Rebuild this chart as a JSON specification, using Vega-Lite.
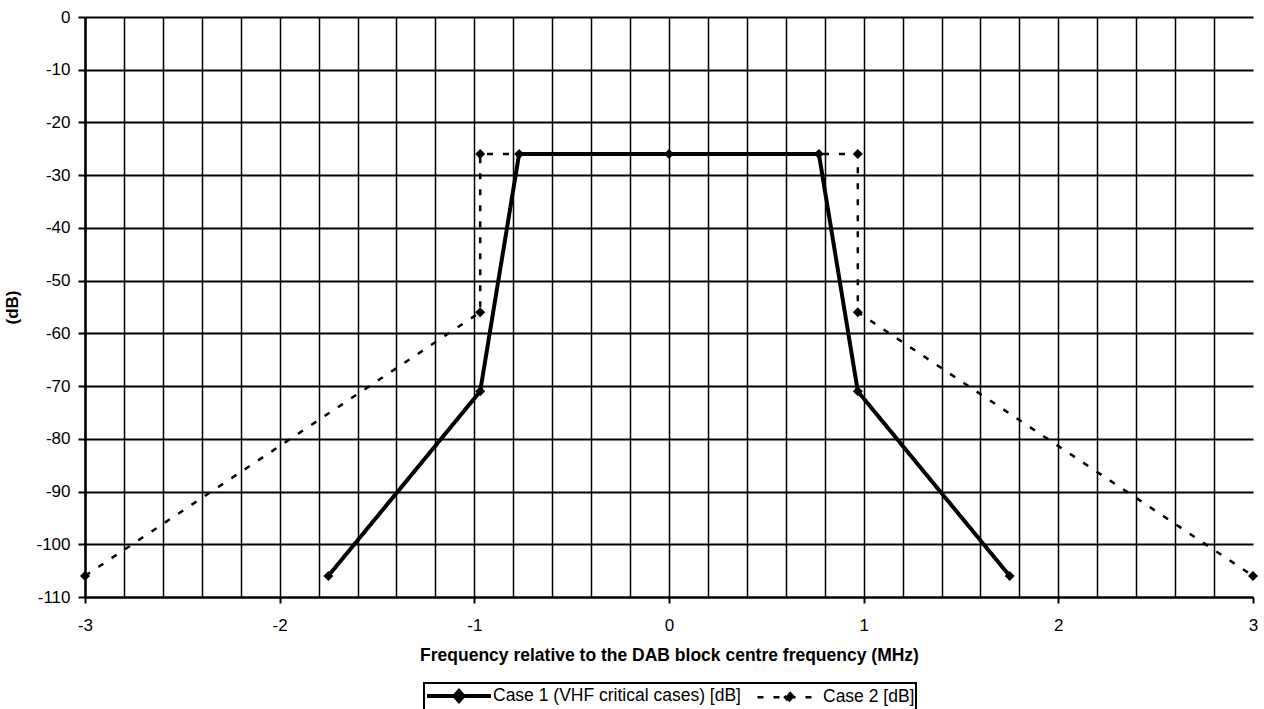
{
  "$schema": "https://vega.github.io/schema/vega-lite/v6.json",
  "width": 1168,
  "height": 580,
  "autosize": {"type": "none"},
  "padding": {"left": 85, "top": 17, "right": 11, "bottom": 112},
  "background": "white",
  "config": {
    "view": {"stroke": null},
    "font": "Liberation Sans",
    "axis": {"labelFont": "Liberation Sans", "titleFont": "Liberation Sans", "labelColor": "black", "titleColor": "black", "labelFontSize": 17},
    "legend": {"strokeWidth": 2}
  },
  "data": {
    "values": [
      {"series": "Case 1 (VHF critical cases)  [dB]", "ord": 1, "f": -1.75, "db": -106},
      {"series": "Case 1 (VHF critical cases)  [dB]", "ord": 2, "f": -0.97, "db": -71},
      {"series": "Case 1 (VHF critical cases)  [dB]", "ord": 3, "f": -0.77, "db": -26},
      {"series": "Case 1 (VHF critical cases)  [dB]", "ord": 4, "f": 0, "db": -26},
      {"series": "Case 1 (VHF critical cases)  [dB]", "ord": 5, "f": 0.77, "db": -26},
      {"series": "Case 1 (VHF critical cases)  [dB]", "ord": 6, "f": 0.97, "db": -71},
      {"series": "Case 1 (VHF critical cases)  [dB]", "ord": 7, "f": 1.75, "db": -106},
      {"series": "Case 2 [dB]", "ord": 1, "f": -3, "db": -106},
      {"series": "Case 2 [dB]", "ord": 2, "f": -0.97, "db": -56},
      {"series": "Case 2 [dB]", "ord": 3, "f": -0.97, "db": -26},
      {"series": "Case 2 [dB]", "ord": 4, "f": 0.97, "db": -26},
      {"series": "Case 2 [dB]", "ord": 5, "f": 0.97, "db": -56},
      {"series": "Case 2 [dB]", "ord": 6, "f": 3, "db": -106}
    ]
  },
  "encoding": {
    "x": {
      "field": "f", "type": "quantitative",
      "scale": {"domain": [-3, 3], "nice": false, "zero": false},
      "axis": {
        "title": "Frequency relative to the DAB block centre frequency (MHz)",
        "titleFontSize": 17.5, "titleFontWeight": "bold", "titlePadding": 13,
        "values": [-3,-2.8,-2.6,-2.4,-2.2,-2,-1.8,-1.6,-1.4,-1.2,-1,-0.8,-0.6,-0.4,-0.2,0,0.2,0.4,0.6,0.8,1,1.2,1.4,1.6,1.8,2,2.2,2.4,2.6,2.8,3],
        "labelExpr": "abs(datum.value - round(datum.value)) < 0.001 ? toString(round(datum.value)) : ''",
        "labelFontSize": 17, "labelPadding": 14, "labelFlush": false, "labelOverlap": false, "labelBound": false,
        "grid": true, "gridColor": "black", "gridWidth": 1.5,
        "gridOpacity": {"condition": {"test": "datum.value > 2.99", "value": 0}, "value": 1},
        "tickColor": "black", "tickWidth": 2, "tickSize": 6,
        "tickOpacity": {"condition": {"test": "abs(datum.value - round(datum.value)) < 0.001", "value": 1}, "value": 0},
        "domainColor": "black", "domainWidth": 2
      }
    },
    "y": {
      "field": "db", "type": "quantitative",
      "scale": {"domain": [-110, 0], "nice": false},
      "axis": {
        "title": "(dB)", "titleFontSize": 17, "titleFontWeight": "bold", "titlePadding": 14,
        "values": [-110,-100,-90,-80,-70,-60,-50,-40,-30,-20,-10,0],
        "labelExpr": "toString(datum.value)",
        "labelFontSize": 17, "labelPadding": 8,
        "grid": true, "gridColor": "black", "gridWidth": 2,
        "tickColor": "black", "tickWidth": 2, "tickSize": 7,
        "domainColor": "black", "domainWidth": 2.5
      }
    }
  },
  "layer": [
    {
      "mark": {"type": "line", "color": "black", "strokeCap": "butt"},
      "encoding": {
        "order": {"field": "ord", "type": "quantitative"},
        "detail": {"field": "series"},
        "strokeDash": {
          "field": "series", "type": "nominal",
          "scale": {"domain": ["Case 1 (VHF critical cases)  [dB]", "Case 2 [dB]"], "range": [[1, 0], [6, 10]]},
          "legend": {
            "title": null, "orient": "none", "legendX": 339, "legendY": 666,
            "direction": "horizontal",
            "strokeColor": "black", "padding": 1,
            "labelFontSize": 17.5, "labelColor": "black", "labelFont": "Liberation Sans", "labelLimit": 500,
            "symbolType": "M-1,0L5.4,0M2.2,-0.5L2.65,0L2.2,0.5L1.75,0Z",
            "symbolSize": 400, "symbolStrokeColor": "black", "symbolFillColor": "black",
            "symbolStrokeWidth": 3.5, "columnPadding": 6, "labelOffset": 44
          }
        },
        "strokeWidth": {
          "field": "series", "type": "nominal",
          "scale": {"domain": ["Case 1 (VHF critical cases)  [dB]", "Case 2 [dB]"], "range": [4, 2.5]},
          "legend": null
        }
      }
    },
    {
      "mark": {"type": "point", "shape": "diamond", "filled": true, "color": "black", "size": 100, "opacity": 1},
      "encoding": {}
    }
  ]
}
